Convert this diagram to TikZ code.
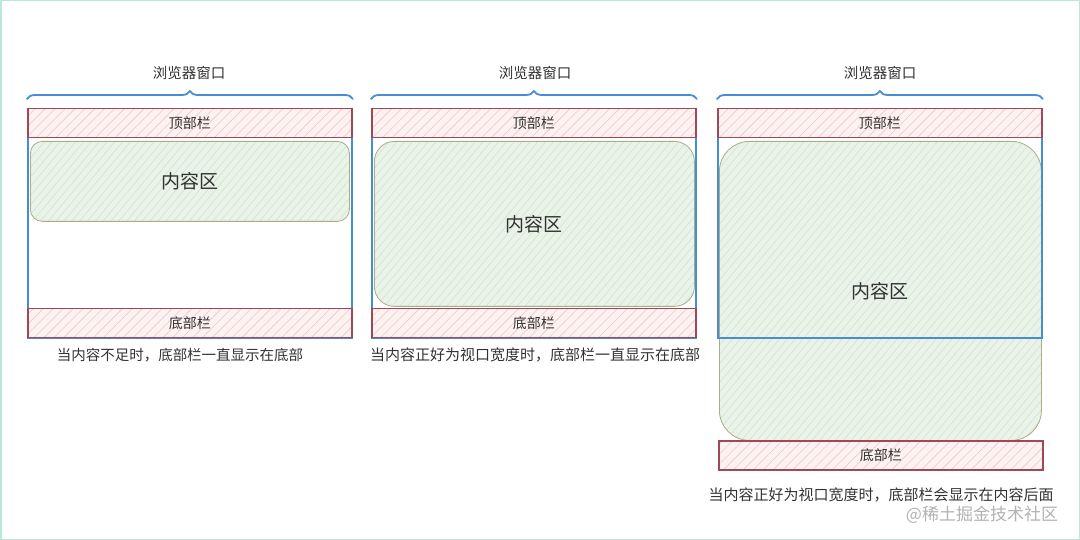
\documentclass[tikz,border=0pt]{standalone}
\usepackage{fontspec}
\usepackage{tikz}
\usetikzlibrary{patterns.meta,decorations.pathreplacing}
\newfontfamily\cjk{Noto Sans CJK SC}

\definecolor{winblue}{RGB}{70,142,212}
\definecolor{barred}{RGB}{160,72,88}
\definecolor{barpink}{RGB}{253,242,242}
\definecolor{hatchred}{RGB}{240,198,198}
\definecolor{boxgreen}{RGB}{233,243,231}
\definecolor{hatchgreen}{RGB}{208,224,208}
\definecolor{boxedge}{RGB}{172,172,134}
\definecolor{mint}{RGB}{184,234,214}
\definecolor{txtgray}{RGB}{50,50,50}

\begin{document}
\begin{tikzpicture}[x=1pt,y=-1pt,
		window/.style={draw=winblue,line width=1.8pt,anchor=north west,inner sep=0pt,minimum width=324pt,minimum height=229pt},
		bar/.style={draw=barred,line width=1.5pt,anchor=north west,inner sep=0pt,
			preaction={fill=barpink},
			preaction={pattern={Lines[angle=45,distance=7pt,line width=0.6pt]},pattern color=hatchred},
			minimum width=324pt,minimum height=29pt,font=\cjk\fontsize{14}{14}\selectfont,text=txtgray},
		content/.style={draw=boxedge,line width=0.8pt,anchor=north west,inner sep=0pt,
			preaction={fill=boxgreen},
			preaction={pattern={Lines[angle=50,distance=6pt,line width=0.5pt]},pattern color=hatchgreen},
			font=\cjk\fontsize{19}{19}\selectfont,text=txtgray},
		title/.style={font=\cjk\fontsize{14.5}{14.5}\selectfont,text=txtgray},
		caption/.style={font=\cjk\fontsize{15}{15}\selectfont,text=txtgray},
		brace/.style={draw=winblue,line width=1.8pt,line cap=round,decorate,decoration={brace,amplitude=8pt}}]

		\useasboundingbox (0,0) rectangle (1080,540);
		\draw [mint,line width=3pt] (0,0) rectangle (1080,540);

		% panel 1: content too short
		\node [content,rounded corners=12pt,minimum width=319pt,minimum height=80pt](CONTENT1) at (30,141) {内容区};
		\node [window](WIN1) at (27,108) {};
		\node [bar](TOP1) at (27,108) {顶部栏};
		\node [bar](BOTTOM1) at (27,308) {底部栏};
		\node [title](TITLE1) at (189,73) {浏览器窗口};
		\draw [brace] ([yshift=9pt]WIN1.north west) -- ([yshift=9pt]WIN1.north east);
		\node [caption,font=\cjk\fontsize{14.5}{14.5}\selectfont](CAPTION1) at (180,355) {当内容不足时，底部栏一直显示在底部};

		% panel 2: content fits the viewport
		\node [content,rounded corners=20pt,minimum width=320pt,minimum height=165pt](CONTENT2) at (374,141) {内容区};
		\node [window](WIN2) at (371,108) {};
		\node [bar](TOP2) at (371,108) {顶部栏};
		\node [bar](BOTTOM2) at (371,308) {底部栏};
		\node [title](TITLE2) at (535,73) {浏览器窗口};
		\draw [brace] ([yshift=9pt]WIN2.north west) -- ([yshift=9pt]WIN2.north east);
		\node [caption](CAPTION2) at (535,355) {当内容正好为视口宽度时，底部栏一直显示在底部};

		% panel 3: content longer than the viewport
		\node [content,rounded corners=30pt,minimum width=322pt,minimum height=299pt](CONTENT3) at (719,141) {内容区};
		\node [window](WIN3) at (717,108) {};
		\node [bar](TOP3) at (717,108) {顶部栏};
		\node [bar](BOTTOM3) at (718,440) {底部栏};
		\node [title](TITLE3) at (880,73) {浏览器窗口};
		\draw [brace] ([yshift=9pt]WIN3.north west) -- ([yshift=9pt]WIN3.north east);
		\node [caption](CAPTION3) at (881,495) {当内容正好为视口宽度时，底部栏会显示在内容后面};

		\node [font=\cjk\fontsize{17}{17}\selectfont,text=black!30](MARK) at (982,515) {@稀土掘金技术社区};

	\end{tikzpicture}
\end{document}
